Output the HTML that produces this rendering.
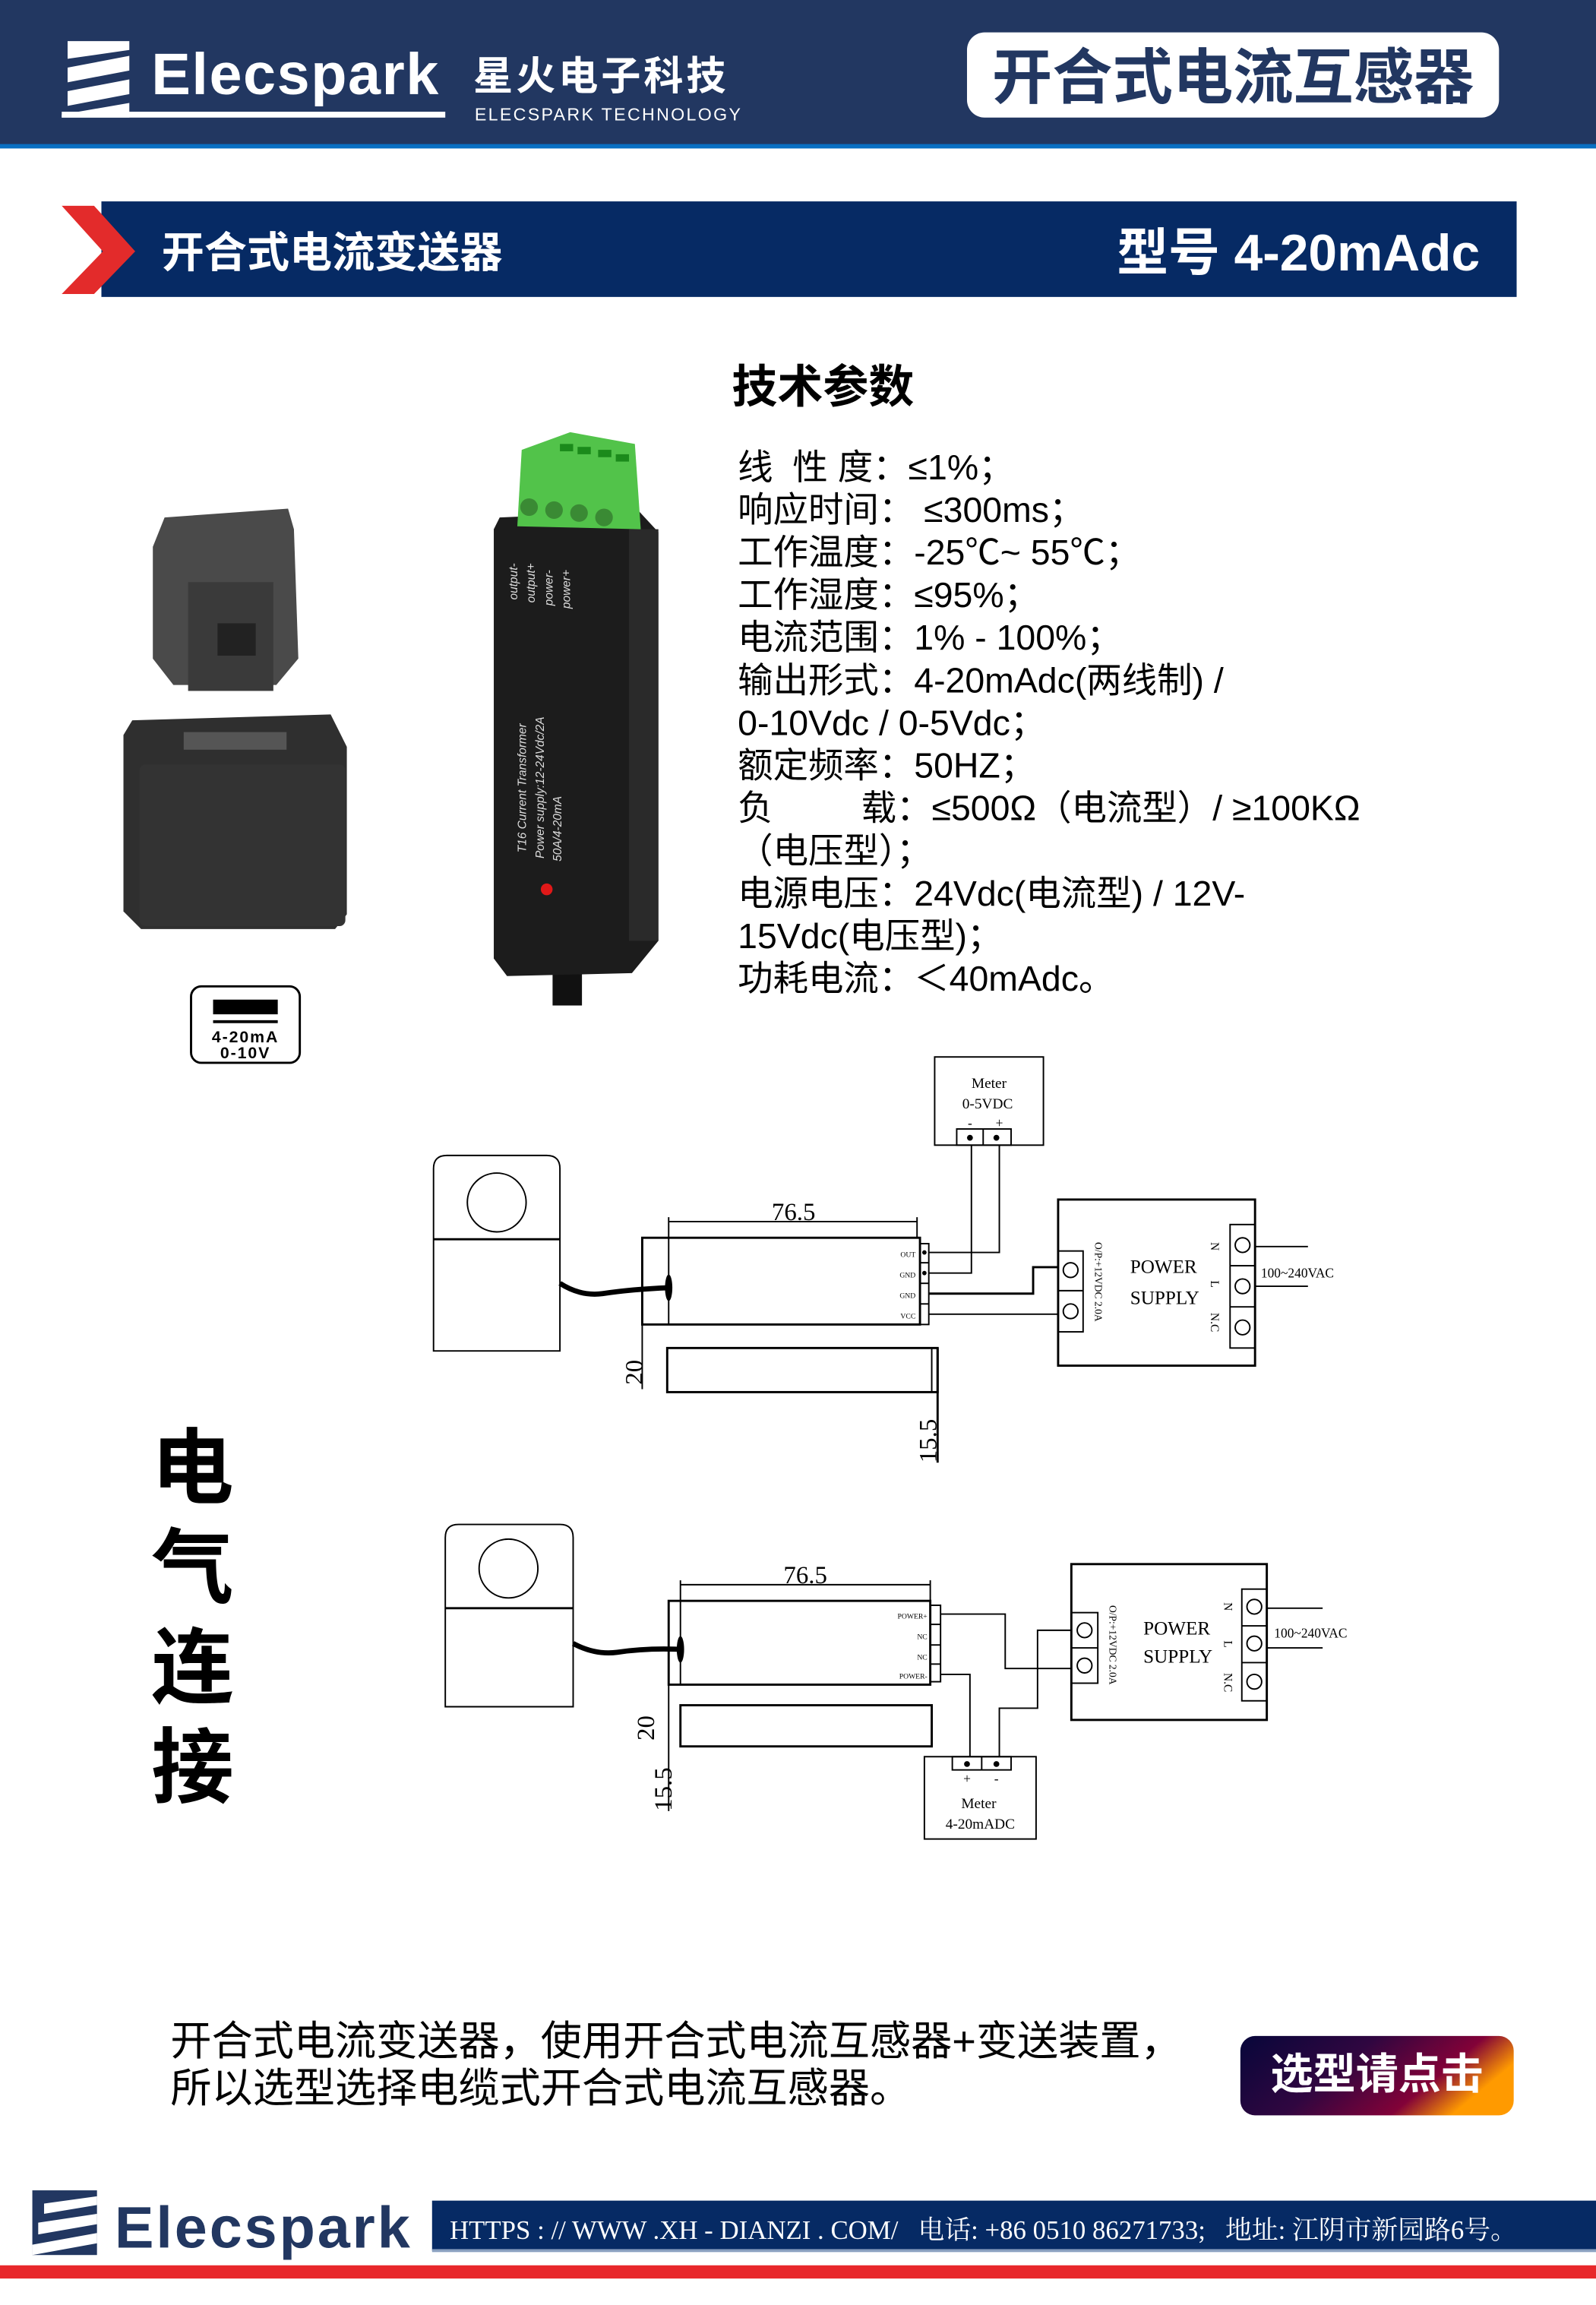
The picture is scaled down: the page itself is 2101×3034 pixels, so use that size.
<!DOCTYPE html>
<html><head><meta charset="utf-8"><style>
html,body{margin:0;padding:0;background:#fff;}
svg{display:block;}
.s{font-family:"Liberation Serif","Noto Serif CJK SC",serif;}
.a{font-family:"Liberation Sans","Noto Sans CJK SC",sans-serif;}
.p{white-space:pre;}
</style></head><body>
<svg width="2101" height="3034" viewBox="0 0 1086 1568" preserveAspectRatio="none" xmlns="http://www.w3.org/2000/svg">
<rect width="1086" height="1568" fill="#fff"/>
<!-- header -->
<rect x="0" y="0" width="1086" height="100" fill="#223761"/>
<rect x="0" y="98" width="1086" height="3" fill="#0a6fc2"/>
<g fill="#fff">
<polygon points="46,28 88,28 88,34 46,40"/>
<polygon points="46,46 88,38 88,48 46,56"/>
<polygon points="46,62 88,54 88,64 46,72"/>
<polygon points="42,78 88,70 88,80 42,80"/>
<rect x="42" y="76" width="261" height="4"/>
</g>
<text x="103" y="64" class="a" font-size="40" font-weight="bold" fill="#fff" letter-spacing="0.8">Elecspark</text>
<text x="322" y="61" class="a" font-size="27" font-weight="bold" fill="#fff" letter-spacing="2">星火电子科技</text>
<text x="323" y="82" class="a" font-size="12" fill="#fff" letter-spacing="1.2">ELECSPARK TECHNOLOGY</text>
<rect x="658" y="22" width="362" height="58" rx="12" fill="#fff"/>
<text x="839" y="67" class="a" font-size="41" font-weight="bold" fill="#223761" text-anchor="middle">开合式电流互感器</text>
<!-- banner -->
<rect x="69" y="137" width="963" height="65" fill="#062a64"/>
<polygon points="42,140 64,140 92,171 64,200 42,200 70,171" fill="#e32b2b"/>
<text x="110" y="182" class="a" font-size="29" font-weight="bold" fill="#fff">开合式电流变送器</text>
<text x="1007" y="184" class="a" font-size="35" font-weight="bold" fill="#fff" text-anchor="end">型号 4-20mAdc</text>
<!-- params -->
<text x="498" y="274" class="a" font-size="31" font-weight="bold" fill="#000">技术参数</text>
<g class="a" font-size="24" fill="#000">
<text class="p" x="502" y="326">线  性 度：≤1%；</text>
<text class="p" x="502" y="355">响应时间： ≤300ms；</text>
<text x="502" y="384">工作温度：-25℃~ 55℃；</text>
<text x="502" y="413">工作湿度：≤95%；</text>
<text x="502" y="442">电流范围：1% - 100%；</text>
<text x="502" y="471">输出形式：4-20mAdc(两线制) /</text>
<text x="502" y="500">0-10Vdc / 0-5Vdc；</text>
<text x="502" y="529">额定频率：50HZ；</text>
<text class="p" x="502" y="558">负         载：≤500Ω（电流型）/ ≥100KΩ</text>
<text x="502" y="587">（电压型）；</text>
<text x="502" y="616">电源电压：24Vdc(电流型) / 12V-</text>
<text x="502" y="645">15Vdc(电压型)；</text>
<text x="502" y="674">功耗电流：＜40mAdc。</text>
</g>
<!-- CT product -->
<g>
<path d="M112,352 L196,346 L200,360 L203,448 L188,466 L118,466 L104,448 L104,372 Z" fill="#4a4a4a"/>
<rect x="128" y="396" width="58" height="74" fill="#3a3a3a"/>
<rect x="148" y="424" width="26" height="22" fill="#222"/>
<path d="M90,490 L225,486 L236,508 L236,622 L228,632 L96,632 L84,620 L84,500 Z" fill="#2f2f2f"/>
<rect x="95" y="520" width="140" height="110" rx="4" fill="#333"/>
<rect x="125" y="498" width="70" height="12" fill="#555"/>
</g>
<rect x="130" y="671" width="74" height="52" rx="7" fill="#fff" stroke="#000" stroke-width="1.5"/>
<rect x="145" y="680" width="44" height="10" fill="#000"/>
<rect x="145" y="694" width="44" height="2" fill="#000"/>
<text x="167" y="709" class="a" font-size="11" font-weight="bold" text-anchor="middle" letter-spacing="1">4-20mA</text>
<text x="167" y="720" class="a" font-size="11" font-weight="bold" text-anchor="middle" letter-spacing="1">0-10V</text>
<!-- transmitter -->
<g>
<rect x="376" y="650" width="20" height="34" fill="#111"/>
<path d="M340,352 L435,348 L448,362 L448,640 L430,662 L345,664 L336,652 L336,360 Z" fill="#1c1c1c"/>
<rect x="428" y="360" width="20" height="280" fill="#2a2a2a"/>
<polygon points="355,306 388,294 432,302 436,360 352,358" fill="#52c34a"/>
<g fill="#3a8a34"><circle cx="360" cy="345" r="6"/><circle cx="377" cy="347" r="6"/><circle cx="394" cy="349" r="6"/><circle cx="411" cy="352" r="6"/></g>
<g fill="#1b8a1b"><rect x="381" y="302" width="9" height="5"/><rect x="393" y="304" width="9" height="5"/><rect x="407" y="306" width="9" height="5"/><rect x="419" y="309" width="9" height="5"/></g>
<g class="a" font-size="8" font-style="italic" fill="#ddd">
<text transform="translate(352,408) rotate(-90)">output-</text>
<text transform="translate(364,410) rotate(-90)">output+</text>
<text transform="translate(376,412) rotate(-90)">power-</text>
<text transform="translate(388,414) rotate(-90)">power+</text>
<text transform="translate(358,580) rotate(-90)">T16 Current  Transformer</text>
<text transform="translate(370,584) rotate(-90)">Power supply:12-24Vdc/2A</text>
<text transform="translate(382,586) rotate(-90)">50A/4-20mA</text>
</g>
<circle cx="372" cy="605" r="4" fill="#e01818"/>
</g>
<!-- 电气连接 -->
<g class="a" font-size="56" font-weight="bold" fill="#000">
<text x="103" y="1018">电</text>
<text x="103" y="1086">气</text>
<text x="103" y="1154">连</text>
<text x="103" y="1222">接</text>
</g>
<!-- diagram 1 -->
<g fill="none" stroke="#000" stroke-width="1">
<path d="M295,919 L295,795 Q295,786 304,786 L372,786 Q381,786 381,795 L381,919 Z"/>
<line x1="295" y1="843" x2="381" y2="843" stroke-width="1.5"/>
<ellipse cx="338" cy="818" rx="20" ry="20"/>
<path d="M381,873 Q395,882 410,880 Q430,877 455,876" stroke-width="3.5"/>
<rect x="437" y="842" width="189" height="59" stroke-width="1.5"/>
<line x1="455" y1="828" x2="455" y2="901"/>
<rect x="626" y="846" width="6" height="55"/>
<line x1="626" y1="859" x2="632" y2="859"/><line x1="626" y1="873" x2="632" y2="873"/><line x1="626" y1="887" x2="632" y2="887"/>
<line x1="455" y1="831" x2="624" y2="831"/>
<line x1="624" y1="828" x2="624" y2="842"/>
<line x1="437" y1="842" x2="437" y2="945"/>
<rect x="454" y="917" width="184" height="30" stroke-width="1.5"/>
<line x1="634" y1="917" x2="634" y2="947"/>
<line x1="638" y1="917" x2="638" y2="995" stroke-width="1.5"/>
<rect x="636" y="719" width="74" height="60"/>
<rect x="651" y="768" width="37" height="11"/><line x1="669" y1="768" x2="669" y2="779"/>
<polyline points="632,852 680,852 680,779"/>
<polyline points="632,866 661,866 661,779"/>
<polyline points="632,880 703,880 703,862 720,862" stroke-width="1.5"/>
<polyline points="632,894 720,894"/>
<rect x="720" y="816" width="134" height="113" stroke-width="1.5"/>
<rect x="720" y="851" width="17" height="55"/><line x1="720" y1="878" x2="737" y2="878"/>
<rect x="837" y="833" width="17" height="84"/><line x1="837" y1="861" x2="854" y2="861"/><line x1="837" y1="889" x2="854" y2="889"/>
<line x1="854" y1="848" x2="890" y2="848"/><line x1="854" y1="875" x2="890" y2="875"/>
<circle cx="728.5" cy="864" r="5"/><circle cx="728.5" cy="892" r="5"/>
<circle cx="845.5" cy="847" r="5"/><circle cx="845.5" cy="875" r="5"/><circle cx="845.5" cy="903" r="5"/>
</g>
<g fill="#000">
<circle cx="660" cy="774" r="2"/><circle cx="678" cy="774" r="2"/>
<circle cx="629" cy="852" r="1.5"/><circle cx="629" cy="866" r="1.5"/>
<ellipse cx="455" cy="876" rx="2.5" ry="9"/>
</g>
<g class="s" fill="#000">
<text x="540" y="830" font-size="17" text-anchor="middle">76.5</text>
<text transform="translate(437,942) rotate(-90)" font-size="17">20</text>
<text transform="translate(637,995) rotate(-90)" font-size="17">15.5</text>
<text x="673" y="740" font-size="10" text-anchor="middle">Meter</text>
<text x="672" y="754" font-size="10" text-anchor="middle">0-5VDC</text>
<text x="660" y="767" font-size="9" text-anchor="middle">-</text><text x="680" y="767" font-size="9" text-anchor="middle">+</text>
<text x="623" y="855" font-size="5" text-anchor="end">OUT</text>
<text x="623" y="869" font-size="5" text-anchor="end">GND</text>
<text x="623" y="883" font-size="5" text-anchor="end">GND</text>
<text x="623" y="897" font-size="5" text-anchor="end">VCC</text>
<text x="769" y="866" font-size="13">POWER</text>
<text x="769" y="887" font-size="13">SUPPLY</text>
<text transform="translate(745,845) rotate(90)" font-size="7">O/P:+12VDC 2.0A</text>
<text transform="translate(824,845) rotate(90)" font-size="8">N</text>
<text transform="translate(824,871) rotate(90)" font-size="8">L</text>
<text transform="translate(824,893) rotate(90)" font-size="8">N.C</text>
<text x="858" y="869" font-size="9">100~240VAC</text>
</g>
<!-- diagram 2 -->
<g fill="none" stroke="#000" stroke-width="1">
<path d="M303,1161 L303,1046 Q303,1037 312,1037 L381,1037 Q390,1037 390,1046 L390,1161 Z"/>
<line x1="303" y1="1094" x2="390" y2="1094" stroke-width="1.5"/>
<ellipse cx="346" cy="1067" rx="20" ry="20"/>
<path d="M390,1118 Q405,1126 420,1124 Q440,1121 463,1122" stroke-width="3.5"/>
<rect x="455" y="1089" width="178" height="57" stroke-width="1.5"/>
<line x1="463" y1="1075" x2="463" y2="1146"/>
<rect x="633" y="1092" width="7" height="52"/>
<line x1="633" y1="1105" x2="640" y2="1105"/><line x1="633" y1="1119" x2="640" y2="1119"/><line x1="633" y1="1132" x2="640" y2="1132"/>
<line x1="463" y1="1078" x2="633" y2="1078"/>
<line x1="633" y1="1075" x2="633" y2="1089"/>
<line x1="455" y1="1089" x2="455" y2="1232"/>
<rect x="463" y="1160" width="171" height="28" stroke-width="1.5"/>
<rect x="629" y="1195" width="76" height="56"/>
<rect x="648" y="1195" width="40" height="9"/><line x1="668" y1="1195" x2="668" y2="1204"/>
<polyline points="640,1098 684,1098 684,1135 729,1135"/>
<polyline points="640,1139 660,1139 660,1195"/>
<polyline points="680,1195 680,1162 706,1162 706,1109 729,1109"/>
<rect x="729" y="1064" width="133" height="106" stroke-width="1.5"/>
<rect x="729" y="1097" width="18" height="48"/><line x1="729" y1="1121" x2="747" y2="1121"/>
<rect x="845" y="1081" width="17" height="76"/><line x1="845" y1="1106" x2="862" y2="1106"/><line x1="845" y1="1131" x2="862" y2="1131"/>
<line x1="862" y1="1094" x2="900" y2="1094"/><line x1="862" y1="1121" x2="900" y2="1121"/>
<circle cx="738" cy="1109" r="5"/><circle cx="738" cy="1133" r="5"/>
<circle cx="853.5" cy="1093" r="5"/><circle cx="853.5" cy="1118" r="5"/><circle cx="853.5" cy="1144" r="5"/>
</g>
<g fill="#000">
<circle cx="658" cy="1200" r="2"/><circle cx="678" cy="1200" r="2"/>
<ellipse cx="463" cy="1122" rx="2.5" ry="9"/>
</g>
<g class="s" fill="#000">
<text x="548" y="1077" font-size="17" text-anchor="middle">76.5</text>
<text transform="translate(445,1184) rotate(-90)" font-size="17">20</text>
<text transform="translate(457,1232) rotate(-90)" font-size="17">15.5</text>
<text x="666" y="1230" font-size="10" text-anchor="middle">Meter</text>
<text x="667" y="1244" font-size="10" text-anchor="middle">4-20mADC</text>
<text x="658" y="1213" font-size="9" text-anchor="middle">+</text><text x="678" y="1213" font-size="9" text-anchor="middle">-</text>
<text x="631" y="1101" font-size="5" text-anchor="end">POWER+</text>
<text x="631" y="1115" font-size="5" text-anchor="end">NC</text>
<text x="631" y="1129" font-size="5" text-anchor="end">NC</text>
<text x="631" y="1142" font-size="5" text-anchor="end">POWER-</text>
<text x="778" y="1112" font-size="13">POWER</text>
<text x="778" y="1131" font-size="13">SUPPLY</text>
<text transform="translate(755,1092) rotate(90)" font-size="7">O/P:+12VDC 2.0A</text>
<text transform="translate(833,1090) rotate(90)" font-size="8">N</text>
<text transform="translate(833,1116) rotate(90)" font-size="8">L</text>
<text transform="translate(833,1138) rotate(90)" font-size="8">N.C</text>
<text x="867" y="1114" font-size="9">100~240VAC</text>
</g>
<!-- bottom text -->
<text x="116" y="1398" class="a" font-size="28" fill="#000">开合式电流变送器，使用开合式电流互感器+变送装置，</text>
<text x="116" y="1430" class="a" font-size="28" fill="#000">所以选型选择电缆式开合式电流互感器。</text>
<defs>
<linearGradient id="g" x1="0" y1="0" x2="1" y2="0.35">
<stop offset="0" stop-color="#07063a"/><stop offset="0.45" stop-color="#300640"/><stop offset="0.8" stop-color="#820238"/><stop offset="1" stop-color="#ff9a00"/>
</linearGradient>
</defs>
<rect x="844" y="1385" width="186" height="54" rx="10" fill="url(#g)"/>
<text x="937" y="1421" class="a" font-size="29" font-weight="bold" fill="#fff" text-anchor="middle">选型请点击</text>
<!-- footer -->
<rect x="22" y="1490" width="44" height="44" fill="#223761"/>
<g fill="#fff">
<polygon points="30,1499 66,1494 66,1500 30,1506"/>
<polygon points="26,1512 66,1506 66,1513 26,1520"/>
<polygon points="22,1527 66,1519 66,1526 22,1534"/>
</g>
<text x="78" y="1529" class="a" font-size="40" font-weight="bold" fill="#223761" letter-spacing="1.5">Elecspark</text>
<rect x="294" y="1497" width="792" height="34" fill="#062a64"/>
<rect x="294" y="1530" width="792" height="2" fill="#8aa0c0"/>
<text x="306" y="1523" class="s p" font-size="18" fill="#fff">HTTPS : // WWW .XH - DIANZI . COM/   电话: +86 0510 86271733;   地址: 江阴市新园路6号。</text>
<rect x="0" y="1541" width="1086" height="9" fill="#e8282b"/>
</svg>
</body></html>
